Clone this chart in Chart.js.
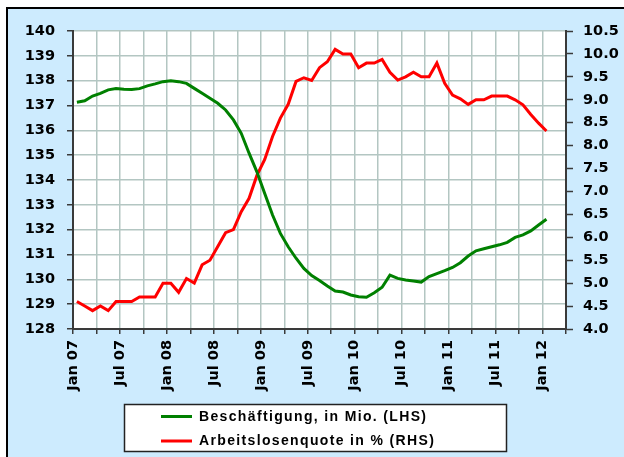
<!DOCTYPE html>
<html>
<head>
<meta charset="utf-8">
<script src="https://cdn.jsdelivr.net/npm/chart.js@4"></script>
<style>
  html, body { margin: 0; padding: 0; background: #fff; }
  body { width: 624px; height: 457px; position: relative; overflow: hidden; }
  #frame {
    position: absolute; left: 6px; top: 7px; width: 640px; height: 470px;
    border-left: 2px solid #000; border-top: 2px solid #000;
    background: #cdebfe;
  }
  #myChart { position: absolute; left: 0; top: 0; }
</style>
</head>
<body>
<div id="frame"></div>
<canvas id="myChart" width="624" height="457"></canvas>
<script>
"use strict";

// monthly values, Jan 07 .. Jan 12
let employment = [137.13, 137.19, 137.38, 137.49, 137.63, 137.68, 137.65, 137.64, 137.68, 137.79, 137.87, 137.96,
                  138.0, 137.96, 137.89, 137.69, 137.49, 137.29, 137.09, 136.82, 136.42, 135.88, 135.08, 134.33,
                  133.46, 132.59, 131.85, 131.31, 130.85, 130.44, 130.15, 129.95, 129.73, 129.53, 129.49, 129.37,
                  129.30, 129.28, 129.46, 129.68, 130.17, 130.04, 129.97, 129.93, 129.89, 130.11, 130.23, 130.35,
                  130.48, 130.67, 130.94, 131.15, 131.23, 131.31, 131.39, 131.49, 131.69, 131.79, 131.95, 132.19,
                  132.42];   //Beschäftigung, in Mio.

let unemployment = [4.6, 4.5, 4.4, 4.5, 4.4, 4.6, 4.6, 4.6, 4.7, 4.7, 4.7, 5.0,
                    5.0, 4.8, 5.1, 5.0, 5.4, 5.5, 5.8, 6.1, 6.17, 6.56, 6.85, 7.35,
                    7.7, 8.2, 8.6, 8.9, 9.4, 9.48, 9.42, 9.7, 9.83, 10.1, 10.0, 10.0,
                    9.7, 9.8, 9.8, 9.88, 9.6, 9.43, 9.5, 9.6, 9.5, 9.5, 9.8, 9.36,
                    9.1, 9.02, 8.9, 9.0, 9.0, 9.08, 9.08, 9.08, 9.0, 8.89, 8.68, 8.49,
                    8.32];   //Arbeitslosenquote in %

let tickLabels = ['Jan 07', 'Jul 07', 'Jan 08', 'Jul 08', 'Jan 09', 'Jul 09',
                  'Jan 10', 'Jul 10', 'Jan 11', 'Jul 11', 'Jan 12'];

let seriesNames = ['Beschäftigung, in Mio. (LHS)', 'Arbeitslosenquote in % (RHS)'];
let seriesColors = ['#008000', '#ff0000'];

const monthsShown = 63;      //axis runs Jan 07 .. Apr 12
const gridColor = '#b3c6c2';
const axisColor = '#3a3a3a';
const tickFamily = "'DejaVu Sans', sans-serif";     //wide glyphs like the excel rendering
const legendFamily = "'Liberation Sans', Arial, sans-serif";

//points sit in the middle of each month
const toPoints = arr => arr.map((v, i) => ({x: i + 0.5, y: v}));

//text with extra spacing between letters
function spacedText(ctx, txt, x, y, gap) {
    for (const ch of txt) {
        ctx.fillText(ch, x, y);
        x += ctx.measureText(ch).width + gap;
    }
}

//white plot area
const plotBg = {
    id: 'plotBg',
    beforeDraw(chart) {
        const {ctx, chartArea: a} = chart;
        ctx.save();
        ctx.fillStyle = '#fff';
        ctx.fillRect(a.left, a.top, a.right - a.left, a.bottom - a.top);
        ctx.restore();
    }
};

//boxed legend below the x labels
const boxLegend = {
    id: 'boxLegend',
    afterDraw(chart) {
        const ctx = chart.ctx;
        ctx.save();
        ctx.fillStyle = '#fff';
        ctx.strokeStyle = '#222';
        ctx.lineWidth = 1.5;
        ctx.fillRect(124.5, 404.5, 382, 47);
        ctx.strokeRect(124.5, 404.5, 382, 47);
        ctx.font = 'bold 14px ' + legendFamily;
        ctx.textBaseline = 'middle';
        chart.data.datasets.forEach((ds, i) => {
            const y = 416.5 + i * 24.5;
            ctx.strokeStyle = ds.borderColor;
            ctx.lineWidth = 3;
            ctx.beginPath();
            ctx.moveTo(161, y);
            ctx.lineTo(192, y);
            ctx.stroke();
            ctx.fillStyle = '#000';
            spacedText(ctx, ds.label, 199, y + 0.5, 1.35);
        });
        ctx.restore();
    }
};

const data = {
    datasets: [{
        label: seriesNames[0],
        yAxisID: 'yLeft',
        data: toPoints(employment),
        borderColor: seriesColors[0],
        borderWidth: 3,
        pointRadius: 0,
        tension: 0
    }, {
        label: seriesNames[1],
        yAxisID: 'yRight',
        data: toPoints(unemployment),
        borderColor: seriesColors[1],
        borderWidth: 3,
        pointRadius: 0,
        tension: 0
    }]
};

const tickFont = {family: tickFamily, size: 14.5, weight: 'bold'};

const config = {
    type: 'line',
    data,
    plugins: [plotBg, boxLegend],
    options: {
        responsive: false,
        animation: false,
        layout: {padding: {left: 0, right: 0, top: 31, bottom: 0}},
        scales: {
            x: {
                type: 'linear',
                min: 0,
                max: monthsShown,
                afterFit: s => { s.height = 128; },
                grid: {
                    color: c => (c.tick && (c.tick.value === 0 || c.tick.value === monthsShown)) ? 'rgba(0,0,0,0)' : gridColor,
                    lineWidth: 1.5,
                    tickColor: axisColor,
                    tickLength: 5,
                    tickWidth: 1.5
                },
                border: {color: axisColor, width: 2},
                ticks: {
                    stepSize: 3,
                    autoSkip: false,
                    maxRotation: 90,
                    minRotation: 90,
                    padding: 6,
                    color: '#000',
                    font: tickFont,
                    callback: v => (v % 6 === 0) ? tickLabels[v / 6] : ''
                }
            },
            yLeft: {
                type: 'linear',
                position: 'left',
                min: 128,
                max: 140,
                afterFit: s => { s.width = 73; },
                grid: {
                    color: c => (c.tick && c.tick.value === 128) ? 'rgba(0,0,0,0)' : gridColor,
                    lineWidth: 1.5,
                    tickColor: axisColor,
                    tickLength: 6,
                    tickWidth: 1.5
                },
                border: {color: axisColor, width: 2},
                ticks: {
                    stepSize: 1,
                    padding: 12,
                    color: '#000',
                    font: tickFont
                }
            },
            yRight: {
                type: 'linear',
                position: 'right',
                min: 4,
                max: 10.5,
                afterFit: s => { s.width = 58; },
                grid: {
                    drawOnChartArea: false,
                    tickColor: axisColor,
                    tickLength: 7,
                    tickWidth: 1.5
                },
                border: {color: axisColor, width: 2},
                ticks: {
                    stepSize: 0.5,
                    padding: 10,
                    color: '#000',
                    font: tickFont,
                    callback: v => v.toFixed(1)
                }
            }
        },
        plugins: {
            legend: {display: false},
            tooltip: {enabled: false}
        }
    }
};

const myChart = new Chart(document.getElementById('myChart'), config);
</script>
</body>
</html>
